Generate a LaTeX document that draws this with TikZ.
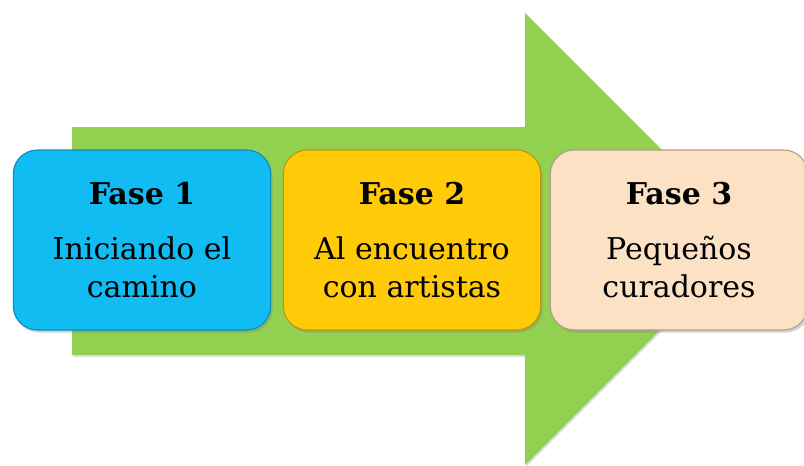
\documentclass[tikz,border=0pt]{standalone}
\usepackage{fontspec}
\setmainfont{DejaVu Serif}
\usetikzlibrary{shadows}
\definecolor{arrowgreen}{RGB}{146,208,80}
\definecolor{faseblue}{RGB}{16,188,242}
\definecolor{fasegold}{RGB}{255,202,8}
\definecolor{fasepeach}{RGB}{253,225,196}
\tikzset{
    fasebox/.style={rounded corners=18pt, minimum width=193pt, minimum height=135pt,
        align=center, font=\fontsize{22.5}{28.5}\selectfont, line width=0.8pt,
        drop shadow={shadow xshift=1.5pt, shadow yshift=-2pt, opacity=0.35}}
}
\newcommand{\fasehead}[1]{{\fontsize{22.5}{28.5}\selectfont\bfseries #1}}
\begin{document}
\begin{tikzpicture}[x=0.75pt, y=-0.75pt]
    \useasboundingbox (0,0) rectangle (804,465);
    \fill [arrowgreen, drop shadow={shadow xshift=1pt, shadow yshift=-1.5pt, opacity=0.25}]
        (72,127) -- (525,127) -- (525,13) -- (751,239) -- (525,465) -- (525,355) -- (72,355) -- cycle;
    \node [fasebox, fill=faseblue, draw=faseblue!75!black] (fase1) at (142,240)
        {\fasehead{Fase 1}\\[13pt]Iniciando el\\camino};
    \node [fasebox, fill=fasegold, draw=fasegold!75!black] (fase2) at (412,240)
        {\fasehead{Fase 2}\\[13pt]Al encuentro\\con artistas};
    \node [fasebox, fill=fasepeach, draw=fasepeach!70!black] (fase3) at (679,240)
        {\fasehead{Fase 3}\\[13pt]Pequeños\\curadores};
\end{tikzpicture}
\end{document}
